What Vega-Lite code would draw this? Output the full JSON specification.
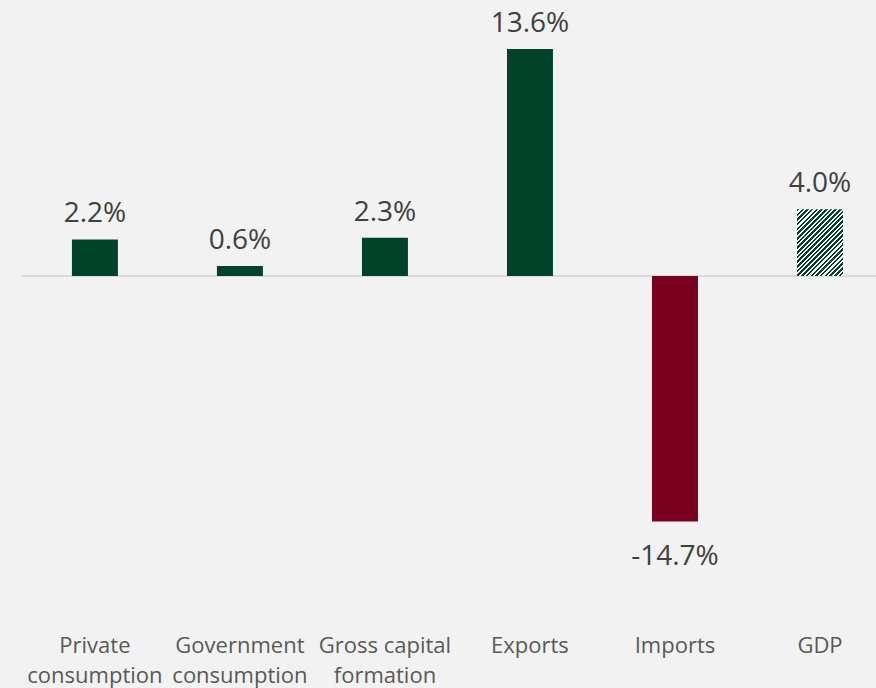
{
  "$schema": "https://vega.github.io/schema/vega-lite/v6.json",
  "autosize": "none",
  "width": 854,
  "height": 601,
  "padding": {"left": 22, "right": 0, "top": 9, "bottom": 78},
  "background": "#f2f2f2",
  "config": {
    "view": {"stroke": null},
    "locale": {"number": {"decimal": ".", "thousands": ",", "grouping": [3], "currency": ["$", ""], "minus": "-"}}
  },
  "data": {
    "values": [
      {"category": "Private consumption", "value": 0.022},
      {"category": "Government consumption", "value": 0.006},
      {"category": "Gross capital formation", "value": 0.023},
      {"category": "Exports", "value": 0.136},
      {"category": "Imports", "value": -0.147},
      {"category": "GDP", "value": 0.04}
    ]
  },
  "layer": [
    {
      "mark": {"type": "rule", "color": "#d9d9d9", "strokeWidth": 1.5},
      "encoding": {"y": {"datum": 0, "type": "quantitative", "scale": {"domain": [-0.2, 0.16], "nice": false, "zero": true}, "axis": null}}
    },
    {
      "transform": [{"filter": "datum.category != 'GDP'"}],
      "mark": {"type": "bar"},
      "encoding": {
        "x": {
          "field": "category",
          "type": "nominal",
          "sort": ["Private consumption", "Government consumption", "Gross capital formation", "Exports", "Imports", "GDP"],
          "scale": {"domain": ["Private consumption", "Government consumption", "Gross capital formation", "Exports", "Imports", "GDP"], "paddingInner": 0.683, "paddingOuter": 0.286, "align": 0.602},
          "axis": {
            "title": null,
            "domain": false,
            "ticks": false,
            "labelAngle": 0,
            "labelFont": "Open Sans",
            "labelFontSize": 22,
            "labelColor": "#595959",
            "labelPadding": 42,
            "labelBaseline": "alphabetic",
            "labelLineHeight": 30,
            "labelLimit": 300,
            "labelExpr": "datum.value == 'Private consumption' ? ['Private', 'consumption'] : datum.value == 'Government consumption' ? ['Government', 'consumption'] : datum.value == 'Gross capital formation' ? ['Gross capital', 'formation'] : datum.value"
          }
        },
        "y": {"field": "value", "type": "quantitative"},
        "color": {
          "field": "category",
          "type": "nominal",
          "scale": {
            "domain": ["Private consumption", "Government consumption", "Gross capital formation", "Exports", "Imports"],
            "range": ["#00432a", "#00432a", "#00432a", "#00432a", "#7a0020"]
          },
          "legend": null
        }
      }
    },
    {
      "transform": [{"filter": "datum.category == 'GDP'"}],
      "mark": {
        "type": "bar",
        "color": {
          "gradient": "linear",
          "x1": 0, "y1": 0, "x2": 0.82, "y2": 1.19,
          "stops": [
            {"offset": 0, "color": "#00432a"}, {"offset": 0.022, "color": "#00432a"}, {"offset": 0.022, "color": "#ffffff"}, {"offset": 0.04, "color": "#ffffff"},
            {"offset": 0.04, "color": "#00432a"}, {"offset": 0.062, "color": "#00432a"}, {"offset": 0.062, "color": "#ffffff"}, {"offset": 0.08, "color": "#ffffff"},
            {"offset": 0.08, "color": "#00432a"}, {"offset": 0.102, "color": "#00432a"}, {"offset": 0.102, "color": "#ffffff"}, {"offset": 0.12, "color": "#ffffff"},
            {"offset": 0.12, "color": "#00432a"}, {"offset": 0.142, "color": "#00432a"}, {"offset": 0.142, "color": "#ffffff"}, {"offset": 0.16, "color": "#ffffff"},
            {"offset": 0.16, "color": "#00432a"}, {"offset": 0.182, "color": "#00432a"}, {"offset": 0.182, "color": "#ffffff"}, {"offset": 0.20, "color": "#ffffff"},
            {"offset": 0.20, "color": "#00432a"}, {"offset": 0.222, "color": "#00432a"}, {"offset": 0.222, "color": "#ffffff"}, {"offset": 0.24, "color": "#ffffff"},
            {"offset": 0.24, "color": "#00432a"}, {"offset": 0.262, "color": "#00432a"}, {"offset": 0.262, "color": "#ffffff"}, {"offset": 0.28, "color": "#ffffff"},
            {"offset": 0.28, "color": "#00432a"}, {"offset": 0.302, "color": "#00432a"}, {"offset": 0.302, "color": "#ffffff"}, {"offset": 0.32, "color": "#ffffff"},
            {"offset": 0.32, "color": "#00432a"}, {"offset": 0.342, "color": "#00432a"}, {"offset": 0.342, "color": "#ffffff"}, {"offset": 0.36, "color": "#ffffff"},
            {"offset": 0.36, "color": "#00432a"}, {"offset": 0.382, "color": "#00432a"}, {"offset": 0.382, "color": "#ffffff"}, {"offset": 0.40, "color": "#ffffff"},
            {"offset": 0.40, "color": "#00432a"}, {"offset": 0.422, "color": "#00432a"}, {"offset": 0.422, "color": "#ffffff"}, {"offset": 0.44, "color": "#ffffff"},
            {"offset": 0.44, "color": "#00432a"}, {"offset": 0.462, "color": "#00432a"}, {"offset": 0.462, "color": "#ffffff"}, {"offset": 0.48, "color": "#ffffff"},
            {"offset": 0.48, "color": "#00432a"}, {"offset": 0.502, "color": "#00432a"}, {"offset": 0.502, "color": "#ffffff"}, {"offset": 0.52, "color": "#ffffff"},
            {"offset": 0.52, "color": "#00432a"}, {"offset": 0.542, "color": "#00432a"}, {"offset": 0.542, "color": "#ffffff"}, {"offset": 0.56, "color": "#ffffff"},
            {"offset": 0.56, "color": "#00432a"}, {"offset": 0.582, "color": "#00432a"}, {"offset": 0.582, "color": "#ffffff"}, {"offset": 0.60, "color": "#ffffff"},
            {"offset": 0.60, "color": "#00432a"}, {"offset": 0.622, "color": "#00432a"}, {"offset": 0.622, "color": "#ffffff"}, {"offset": 0.64, "color": "#ffffff"},
            {"offset": 0.64, "color": "#00432a"}, {"offset": 0.662, "color": "#00432a"}, {"offset": 0.662, "color": "#ffffff"}, {"offset": 0.68, "color": "#ffffff"},
            {"offset": 0.68, "color": "#00432a"}, {"offset": 0.702, "color": "#00432a"}, {"offset": 0.702, "color": "#ffffff"}, {"offset": 0.72, "color": "#ffffff"},
            {"offset": 0.72, "color": "#00432a"}, {"offset": 0.742, "color": "#00432a"}, {"offset": 0.742, "color": "#ffffff"}, {"offset": 0.76, "color": "#ffffff"},
            {"offset": 0.76, "color": "#00432a"}, {"offset": 0.782, "color": "#00432a"}, {"offset": 0.782, "color": "#ffffff"}, {"offset": 0.80, "color": "#ffffff"},
            {"offset": 0.80, "color": "#00432a"}, {"offset": 0.822, "color": "#00432a"}, {"offset": 0.822, "color": "#ffffff"}, {"offset": 0.84, "color": "#ffffff"},
            {"offset": 0.84, "color": "#00432a"}, {"offset": 0.862, "color": "#00432a"}, {"offset": 0.862, "color": "#ffffff"}, {"offset": 0.88, "color": "#ffffff"},
            {"offset": 0.88, "color": "#00432a"}, {"offset": 0.902, "color": "#00432a"}, {"offset": 0.902, "color": "#ffffff"}, {"offset": 0.92, "color": "#ffffff"},
            {"offset": 0.92, "color": "#00432a"}, {"offset": 0.942, "color": "#00432a"}, {"offset": 0.942, "color": "#ffffff"}, {"offset": 0.96, "color": "#ffffff"},
            {"offset": 0.96, "color": "#00432a"}, {"offset": 0.982, "color": "#00432a"}, {"offset": 0.982, "color": "#ffffff"}, {"offset": 1, "color": "#ffffff"}
          ]
        }
      },
      "encoding": {
        "x": {"field": "category", "type": "nominal"},
        "y": {"field": "value", "type": "quantitative"}
      }
    },
    {
      "transform": [{"filter": "datum.value >= 0"}],
      "mark": {"type": "text", "baseline": "alphabetic", "dy": -17, "font": "Open Sans", "fontSize": 28, "color": "#404040"},
      "encoding": {
        "x": {"field": "category", "type": "nominal"},
        "y": {"field": "value", "type": "quantitative"},
        "text": {"field": "value", "type": "quantitative", "format": ".1%"}
      }
    },
    {
      "transform": [{"filter": "datum.value < 0"}],
      "mark": {"type": "text", "baseline": "alphabetic", "dy": 43, "font": "Open Sans", "fontSize": 28, "color": "#404040"},
      "encoding": {
        "x": {"field": "category", "type": "nominal"},
        "y": {"field": "value", "type": "quantitative"},
        "text": {"field": "value", "type": "quantitative", "format": ".1%"}
      }
    }
  ]
}
